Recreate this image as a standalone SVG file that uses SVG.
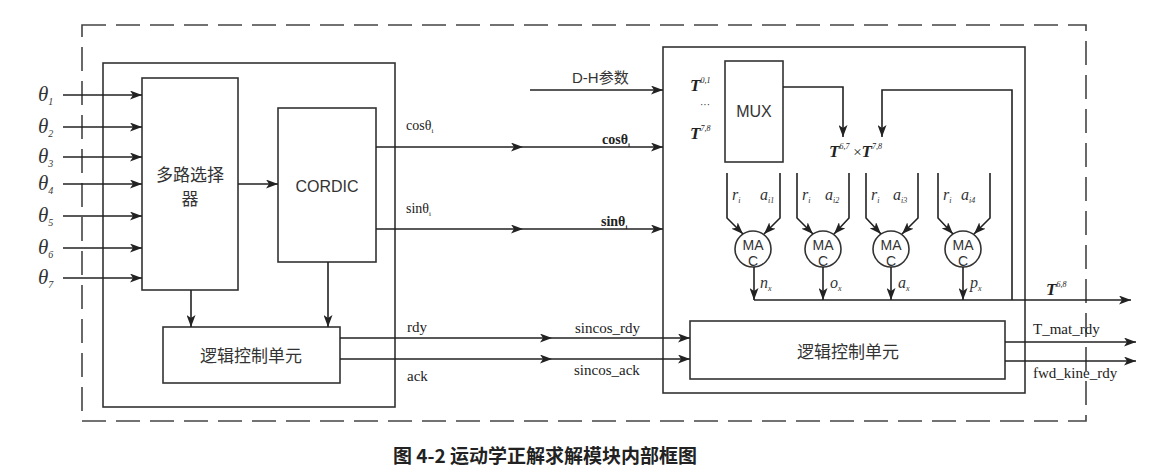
<svg xmlns="http://www.w3.org/2000/svg" width="1176" height="476" viewBox="0 0 1176 476">
<defs>
<marker id="arr" markerWidth="13" markerHeight="9" refX="12" refY="4.5" orient="auto" markerUnits="userSpaceOnUse">
<path d="M0,0 L12,4.5 L0,9 L3,4.5 z" fill="#222"/>
</marker>
<style>
.box{fill:none;stroke:#333;stroke-width:1.6}
.ln{fill:none;stroke:#222;stroke-width:1.6}
.ar{fill:none;stroke:#222;stroke-width:1.6;marker-end:url(#arr)}
.dash{fill:none;stroke:#444;stroke-width:1.6;stroke-dasharray:24 10}
.cn{font-family:"Noto Sans CJK SC",sans-serif;font-size:17px;fill:#333}
.sans{font-family:"Liberation Sans","Noto Sans CJK SC",sans-serif;fill:#333}
.ser{font-family:"Liberation Serif",serif;fill:#222}
.th{font-family:"Liberation Serif",serif;font-style:italic;font-size:21px;fill:#333}
.sub{font-size:10px}
.tb{font-family:"Liberation Serif",serif;font-style:italic;font-weight:bold;font-size:17px;fill:#222}
.sup{font-size:8px;font-weight:normal}
.ri{font-family:"Liberation Serif",serif;font-style:italic;font-size:16px;fill:#333}
.ss{font-size:8px}
.cap{font-family:"Noto Sans CJK SC",serif;font-size:19px;font-weight:bold;fill:#222}
</style>
</defs>
<rect width="1176" height="476" fill="#fff"/>
<rect class="dash" x="82" y="25" width="1004" height="396"/>

<g id="left-block"><rect class="box" x="103" y="63" width="292" height="344"/></g>

<g id="mux-sel">
<rect class="box" x="142" y="78" width="96" height="212"/>
<text class="cn" x="190" y="181" text-anchor="middle">多路选择</text>
<text class="cn" x="190" y="205" text-anchor="middle">器</text>
</g>

<g id="cordic">
<rect class="box" x="278" y="108" width="98" height="154"/>
<text class="sans" x="327" y="192" font-size="16" text-anchor="middle">CORDIC</text>
</g>

<g id="logic-left">
<rect class="box" x="163" y="327" width="177" height="56"/>
<text class="cn" x="251" y="362" text-anchor="middle">逻辑控制单元</text>
</g>

<g id="inputs">
<text class="th" x="38" y="101">θ<tspan class="sub" dy="4">1</tspan></text>
<text class="th" x="38" y="133">θ<tspan class="sub" dy="4">2</tspan></text>
<text class="th" x="38" y="163">θ<tspan class="sub" dy="4">3</tspan></text>
<text class="th" x="38" y="190">θ<tspan class="sub" dy="4">4</tspan></text>
<text class="th" x="38" y="222">θ<tspan class="sub" dy="4">5</tspan></text>
<text class="th" x="38" y="254">θ<tspan class="sub" dy="4">6</tspan></text>
<text class="th" x="38" y="284">θ<tspan class="sub" dy="4">7</tspan></text>
</g>

<g id="right-block"><rect class="box" x="663" y="47" width="362" height="346"/></g>

<g id="mux">
<rect class="box" x="725" y="61" width="58" height="101"/>
<text class="sans" x="754" y="117" font-size="16" text-anchor="middle">MUX</text>
<text class="tb" x="690" y="91">T<tspan class="sup" dy="-8">0,1</tspan></text>
<text class="ser" x="700" y="108" font-size="10" fill="#777">···</text>
<text class="tb" x="690" y="139">T<tspan class="sup" dy="-8">7,8</tspan></text>
</g>

<g id="matmul">
<text class="tb" x="829" y="157">T<tspan class="sup" dy="-8">6,7</tspan><tspan dy="8" font-style="normal" font-weight="normal" font-size="15"> ×</tspan>T<tspan class="sup" dy="-8">7,8</tspan></text>
</g>

<g id="mac1">
<circle class="box" cx="753" cy="249" r="18"/>
<text class="sans" x="753" y="250" font-size="14" text-anchor="middle">MA</text>
<text class="sans" x="753" y="266" font-size="14" text-anchor="middle">C</text>
<text class="ri" x="732" y="200">r<tspan class="ss" dy="3">i</tspan></text>
<text class="ri" x="760" y="200">a<tspan class="ss" dy="3">i1</tspan></text>
<text class="ri" x="760" y="288">n<tspan class="ss" dy="3">x</tspan></text>
</g>
<g id="mac2">
<circle class="box" cx="823" cy="249" r="18"/>
<text class="sans" x="823" y="250" font-size="14" text-anchor="middle">MA</text>
<text class="sans" x="823" y="266" font-size="14" text-anchor="middle">C</text>
<text class="ri" x="802" y="200">r<tspan class="ss" dy="3">i</tspan></text>
<text class="ri" x="825" y="200">a<tspan class="ss" dy="3">i2</tspan></text>
<text class="ri" x="830" y="288">o<tspan class="ss" dy="3">x</tspan></text>
</g>
<g id="mac3">
<circle class="box" cx="891" cy="249" r="18"/>
<text class="sans" x="891" y="250" font-size="14" text-anchor="middle">MA</text>
<text class="sans" x="891" y="266" font-size="14" text-anchor="middle">C</text>
<text class="ri" x="871" y="200">r<tspan class="ss" dy="3">i</tspan></text>
<text class="ri" x="893" y="200">a<tspan class="ss" dy="3">i3</tspan></text>
<text class="ri" x="898" y="288">a<tspan class="ss" dy="3">x</tspan></text>
</g>
<g id="mac4">
<circle class="box" cx="963" cy="249" r="18"/>
<text class="sans" x="963" y="250" font-size="14" text-anchor="middle">MA</text>
<text class="sans" x="963" y="266" font-size="14" text-anchor="middle">C</text>
<text class="ri" x="943" y="200">r<tspan class="ss" dy="3">i</tspan></text>
<text class="ri" x="961" y="200">a<tspan class="ss" dy="3">i4</tspan></text>
<text class="ri" x="970" y="288">p<tspan class="ss" dy="3">x</tspan></text>
</g>

<g id="logic-right">
<rect class="box" x="690" y="321" width="315" height="58"/>
<text class="cn" x="848" y="358" text-anchor="middle">逻辑控制单元</text>
</g>

<g id="connectors">
<line class="ar" x1="63" y1="95" x2="142" y2="95"/>
<line class="ar" x1="63" y1="127" x2="142" y2="127"/>
<line class="ar" x1="63" y1="157" x2="142" y2="157"/>
<line class="ar" x1="63" y1="184" x2="142" y2="184"/>
<line class="ar" x1="63" y1="216" x2="142" y2="216"/>
<line class="ar" x1="63" y1="248" x2="142" y2="248"/>
<line class="ar" x1="63" y1="278" x2="142" y2="278"/>
<line class="ar" x1="238" y1="184" x2="278" y2="184"/>
<line class="ar" x1="191" y1="290" x2="191" y2="327"/>
<line class="ar" x1="328" y1="262" x2="328" y2="327"/>
<line class="ar" x1="376" y1="147" x2="523" y2="147"/>
<line class="ar" x1="523" y1="147" x2="663" y2="147"/>
<line class="ar" x1="376" y1="229" x2="523" y2="229"/>
<line class="ar" x1="523" y1="229" x2="663" y2="229"/>
<line class="ar" x1="530" y1="90" x2="663" y2="90"/>
<line class="ar" x1="340" y1="338" x2="552" y2="338"/>
<line class="ar" x1="552" y1="338" x2="690" y2="338"/>
<line class="ar" x1="340" y1="359" x2="552" y2="359"/>
<line class="ar" x1="552" y1="359" x2="690" y2="359"/>
<path class="ar" d="M783,87 H843 V137"/>
<path class="ar" d="M1012,300 V90 H882 V137"/>
<path class="ar" d="M727,173 V218 L743,234"/>
<path class="ar" d="M780,173 V218 L764,234"/>
<path class="ar" d="M797,173 V218 L813,234"/>
<path class="ar" d="M849,173 V218 L834,234"/>
<path class="ar" d="M866,173 V218 L881,234"/>
<path class="ar" d="M918,173 V218 L902,234"/>
<path class="ar" d="M938,173 V218 L953,234"/>
<path class="ar" d="M990,173 V218 L974,234"/>
<line class="ar" x1="754" y1="267" x2="754" y2="300"/>
<line class="ar" x1="823" y1="267" x2="823" y2="300"/>
<line class="ar" x1="891" y1="267" x2="891" y2="300"/>
<line class="ar" x1="963" y1="267" x2="963" y2="300"/>
<line class="ar" x1="754" y1="300" x2="1131" y2="300"/>
<line class="ar" x1="1005" y1="342" x2="1136" y2="342"/>
<line class="ar" x1="1005" y1="361" x2="1136" y2="361"/>
</g>

<g id="labels">
<text class="ser" x="406" y="130" font-size="14">cosθ<tspan font-size="7" dy="3">i</tspan></text>
<text class="ser" x="602" y="144" font-size="14" font-weight="bold">cosθ<tspan font-size="7" dy="3">i</tspan></text>
<text class="ser" x="406" y="213" font-size="14">sinθ<tspan font-size="7" dy="3">i</tspan></text>
<text class="ser" x="601" y="226" font-size="14" font-weight="bold">sinθ<tspan font-size="7" dy="3">i</tspan></text>
<text class="sans" x="572" y="83" font-size="15">D-H参数</text>
<text class="ser" x="407" y="332" font-size="15">rdy</text>
<text class="ser" x="407" y="381" font-size="15">ack</text>
<text class="ser" x="575" y="333" font-size="15">sincos_rdy</text>
<text class="ser" x="574" y="375" font-size="15">sincos_ack</text>
<text class="tb" x="1046" y="295">T<tspan class="sup" dy="-8">6,8</tspan></text>
<text class="ser" x="1033" y="334" font-size="15">T_mat_rdy</text>
<text class="ser" x="1033" y="378" font-size="15">fwd_kine_rdy</text>
</g>

<text class="cap" x="545" y="463" text-anchor="middle">图 4-2 运动学正解求解模块内部框图</text>
</svg>
